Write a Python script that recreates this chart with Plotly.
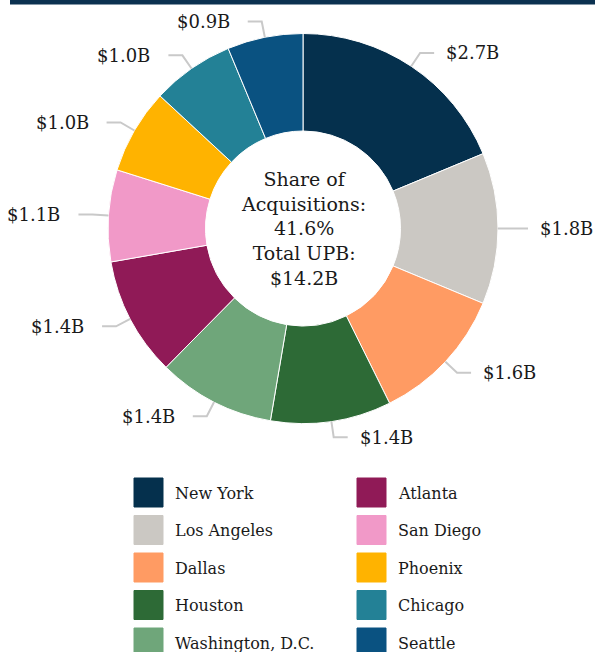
import math
import plotly.graph_objects as go

W, H = 595, 652

cities = ["New York", "Los Angeles", "Dallas", "Houston", "Washington, D.C.",
          "Atlanta", "San Diego", "Phoenix", "Chicago", "Seattle"]
upb_billions = [2.66, 1.78, 1.62, 1.42, 1.38, 1.40, 1.08, 1.00, 0.97, 0.89]
colors = ["#05304D", "#CBC8C3", "#FF9B63", "#2D6A36", "#6FA67A",
          "#901A57", "#F199C8", "#FFB300", "#238196", "#0A5281"]
share_of_acquisitions = "41.6%"
total_upb = "$14.2B"

FONT = "DejaVu Serif, Georgia, serif"
LINE_GRAY = "#C9C9C9"

# pie geometry in pixels
CX, CY, R = 303, 228.5, 195


def px(x):
    return x / W


def py(y):
    return 1 - y / H


fig = go.Figure()

fig.add_trace(
    go.Pie(
        labels=cities,
        values=upb_billions,
        sort=False,
        direction="clockwise",
        rotation=0,
        hole=0.5,
        textinfo="none",
        hoverinfo="label+value",
        marker=dict(colors=colors, line=dict(color="white", width=1)),
        domain=dict(x=[px(CX - R), px(CX + R)], y=[py(CY + R), py(CY - R)]),
        showlegend=False,
    )
)

shapes = []
annotations = []

# top rule
shapes.append(dict(type="rect", xref="paper", yref="paper",
                   x0=px(10), x1=1, y0=py(4.5), y1=1,
                   fillcolor="#0B3150", line=dict(width=0), layer="above"))

# value labels with leader lines
total = sum(upb_billions)
cum = 0.0
for city, v in zip(cities, upb_billions):
    mid = (cum + v / 2) / total * 2 * math.pi
    cum += v
    sx, sy = CX + R * math.sin(mid), CY - R * math.cos(mid)
    ex, ey = CX + (R + 16) * math.sin(mid), CY - (R + 16) * math.cos(mid)
    side = 1 if math.sin(mid) >= 0 else -1
    hx = ex + side * 14
    path = f"M {px(sx)},{py(sy)} L {px(ex)},{py(ey)} L {px(hx)},{py(ey)}"
    shapes.append(dict(type="path", xref="paper", yref="paper", path=path,
                       line=dict(color=LINE_GRAY, width=2)))
    annotations.append(dict(
        x=px(hx + side * (10 if side > 0 else 16)), y=py(ey),
        xref="paper", yref="paper", showarrow=False,
        text=f"${v:.1f}B", xanchor="left" if side > 0 else "right",
        yanchor="middle", font=dict(family=FONT, size=18, color="#1a1a1a"),
    ))

# centre text
annotations.append(dict(
    x=px(CX), y=py(CY), xref="paper", yref="paper", showarrow=False,
    text=f"Share of<br>Acquisitions:<br>{share_of_acquisitions}<br>Total UPB:<br>{total_upb}",
    align="center", font=dict(family=FONT, size=19, color="#1a1a1a"),
))

# legend (two columns, column-major)
for i, (city, c) in enumerate(zip(cities, colors)):
    col, row = divmod(i, 5)
    x0 = 134 + col * 223
    y0 = 478 + row * 37.5
    shapes.append(dict(type="rect", xref="paper", yref="paper",
                       x0=px(x0), x1=px(x0 + 29), y0=py(y0 + 29), y1=py(y0),
                       fillcolor=c, line=dict(color=c, width=1)))
    annotations.append(dict(
        x=px(x0 + 39), y=py(y0 + 15), xref="paper", yref="paper",
        showarrow=False, text=city, xanchor="left", yanchor="middle",
        font=dict(family=FONT, size=16, color="#1a1a1a"),
    ))

fig.update_layout(
    width=W,
    height=H,
    margin=dict(l=0, r=0, t=0, b=0),
    paper_bgcolor="white",
    plot_bgcolor="white",
    shapes=shapes,
    annotations=annotations,
)

# drop the default body margin so the figure sits at the page's top-left
fig.write_html(
    "out.html",
    config={"displayModeBar": False},
    post_script="document.body.style.margin = '0';",
)
